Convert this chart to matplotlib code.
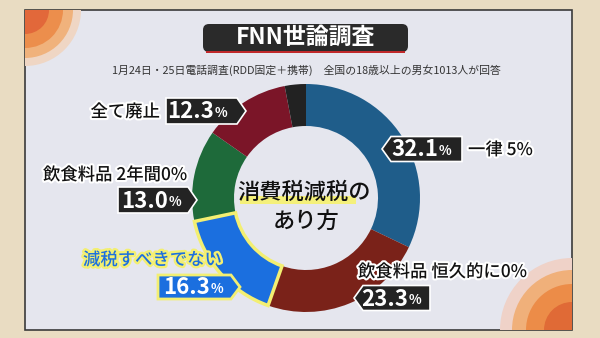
import matplotlib.pyplot as plt
from matplotlib.patches import Polygon, Rectangle, FancyBboxPatch, Circle
import matplotlib.patheffects as pe

plt.rcParams['font.family'] = ['Noto Sans CJK JP', 'DejaVu Sans']

# FNN poll: how should the consumption tax be cut
labels = ['一律 5%', '飲食料品 恒久的に0%', '減税すべきでない',
          '飲食料品 2年間0%', '全て廃止', 'その他']
values = [32.1, 23.3, 16.3, 13.0, 12.3, 3.0]
colors = ['#1f5d8a', '#7a2219', '#1b6fdf', '#1e6a3a', '#7b1528', '#222222']

title = 'FNN世論調査'
subtitle = '1月24日・25日電話調査(RDD固定＋携帯)　全国の18歳以上の男女1013人が回答'
center_text = ['消費税減税の', 'あり方']

H = 338


def Y(y):
    return H - y


fig = plt.figure(figsize=(6, 3.38), dpi=100)
fig.patch.set_facecolor('#e9dcc2')
ax = fig.add_axes([0, 0, 1, 1])

# tv screen
screen = Rectangle((25, Y(330)), 547, 320, facecolor='#e5e6ee',
                   edgecolor='#3a3a3a', lw=1.2, zorder=0)
ax.add_patch(screen)
# soft orange blobs in corners
for (cx, cy, r, c) in [(25, 10, 56, '#efd6c4'), (25, 10, 48, '#f0b27c'),
                       (25, 10, 38, '#ec8e4c'), (25, 10, 24, '#e2683a'),
                       (572, 330, 72, '#efd2c8'), (572, 330, 60, '#f0b07a'),
                       (572, 330, 46, '#ec8c48'), (572, 330, 28, '#e06a36')]:
    circ = Circle((cx, Y(cy)), r, facecolor=c, edgecolor='none', zorder=0.5)
    ax.add_patch(circ)
    circ.set_clip_path(Rectangle((25, Y(330)), 547, 320, transform=ax.transData))

# donut
wedges, _ = ax.pie(values, colors=colors, startangle=90, counterclock=False,
                   radius=114, center=(306, Y(198)),
                   wedgeprops=dict(width=42, linewidth=0))
for w in wedges:
    w.set_zorder(2)
wedges[2].set_edgecolor('#f3ef72')
wedges[2].set_linewidth(2.5)
wedges[2].set_zorder(3)

# title box
ax.add_patch(FancyBboxPatch((203, Y(52)), 205, 28,
                            boxstyle='round,pad=0,rounding_size=6',
                            facecolor='#2a2a2a', edgecolor='none', zorder=4))
ax.add_patch(Rectangle((206, Y(53)), 199, 2.5, facecolor='#c0282a', zorder=4))
ax.text(306, Y(37), title, color='white', fontsize=16.5, fontweight='bold',
        ha='center', va='center', zorder=5)
ax.text(306, Y(70), subtitle, color='#333333', fontsize=7.8,
        ha='center', va='center', zorder=5)

# center text
ax.add_patch(Rectangle((240, Y(204)), 116, 8, facecolor='#f4f07a',
                       edgecolor='none', zorder=4))
ax.text(304, Y(192), center_text[0], fontsize=16, ha='center', va='center',
        color='#111111', fontweight='medium', zorder=5)
ax.text(306, Y(221), center_text[1], fontsize=16, ha='center', va='center',
        color='#111111', fontweight='medium', zorder=5)

white_stroke = [pe.withStroke(linewidth=3, foreground='white')]


def arrow_box(x0, x1, yc, h, side, fc='#232323', ec='white', lw=1.2):
    tip = 9
    if side == 'right':
        pts = [(x0, yc - h / 2), (x1, yc - h / 2), (x1 + tip, yc),
               (x1, yc + h / 2), (x0, yc + h / 2)]
    else:
        pts = [(x0, yc - h / 2), (x1, yc - h / 2), (x1, yc + h / 2),
               (x0, yc + h / 2), (x0 - tip, yc)]
    pts = [(x, Y(y)) for x, y in pts]
    ax.add_patch(Polygon(pts, closed=True, facecolor=fc, edgecolor=ec,
                         lw=lw, zorder=6))


def pct(xend, yc, val):
    ax.text(xend, Y(yc + 1), f'{val:.1f}', color='white', fontsize=16,
            fontweight='bold', ha='right', va='center', zorder=7)
    ax.text(xend + 1, Y(yc + 2), '%', color='white', fontsize=9.5,
            fontweight='bold', ha='left', va='center', zorder=7)


def label(x, y, s, ha='left'):
    ax.text(x, Y(y), s, fontsize=12.5, ha=ha, va='center', color='#111111',
            fontweight='medium', path_effects=white_stroke, zorder=5)


# 全て廃止
label(160, 112, labels[4], ha='right')
arrow_box(166, 237, 111, 26, 'right')
pct(214, 111, values[4])

# 飲食料品 2年間0%
label(43, 175, labels[3])
arrow_box(118, 188, 200, 26, 'right')
pct(168, 200, values[3])

# 減税すべきでない
ax.text(83, Y(260), labels[2], fontsize=12.5, ha='left', va='center',
        color='#1b6fdf', fontweight='medium', zorder=5,
        path_effects=[pe.withStroke(linewidth=3.5, foreground='#f3ef72')])
arrow_box(158, 231, 287, 24, 'right', fc='#1b6fdf', ec='#f3ef72', lw=2)
pct(210, 287, values[2])

# 一律 5%
arrow_box(391, 462, 149, 25, 'left')
pct(438, 149, values[0])
label(468, 150, labels[0])

# 飲食料品 恒久的に0%
label(358, 272, labels[1])
arrow_box(363, 430, 298, 25, 'left')
pct(408, 298, values[1])

ax.set_xlim(0, 600)
ax.set_ylim(0, H)
ax.set_aspect('auto')
ax.axis('off')

fig.savefig('out.png', dpi=100, facecolor=fig.get_facecolor())
